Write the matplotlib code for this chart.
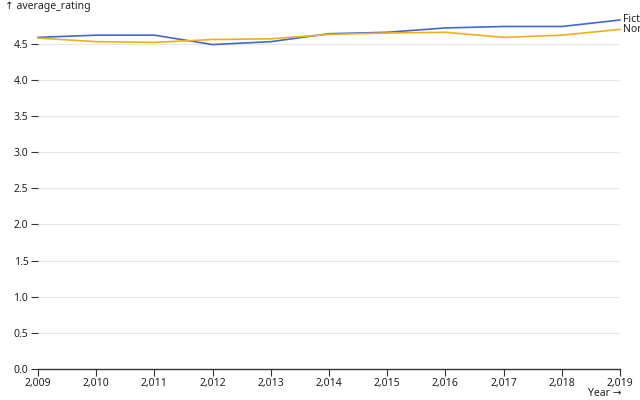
import matplotlib
matplotlib.use("Agg")
import matplotlib.pyplot as plt
from matplotlib.ticker import FuncFormatter, MultipleLocator

plt.rcParams['font.family'] = ['Noto Sans', 'DejaVu Sans']

years = [2009, 2010, 2011, 2012, 2013, 2014, 2015, 2016, 2017, 2018, 2019]
fiction = [4.59, 4.62, 4.62, 4.49, 4.53, 4.64, 4.66, 4.72, 4.74, 4.74, 4.83]
nonfiction = [4.58, 4.53, 4.52, 4.56, 4.57, 4.63, 4.65, 4.66, 4.59, 4.62, 4.70]
series_names = ["Fiction", "Non Fiction"]
colors = ["#4269d0", "#efb118"]

W, H = 640, 400
fig = plt.figure(figsize=(W / 100, H / 100), dpi=100)
left, right, top, bottom = 38, 620, 20, 369
ax = fig.add_axes([left / W, 1 - bottom / H, (right - left) / W, (bottom - top) / H])

for vals, c in zip([fiction, nonfiction], colors):
    ax.plot(years, vals, color=c, lw=1.2, solid_joinstyle='round', clip_on=False)

ymax = max(max(fiction), max(nonfiction))
ax.set_xlim(years[0], years[-1])
ax.set_ylim(0, ymax)

ax.yaxis.set_major_locator(MultipleLocator(0.5))
ax.set_xticks(years)
ax.xaxis.set_major_formatter(FuncFormatter(lambda v, p: f"{int(v):,}"))
ax.yaxis.set_major_formatter(FuncFormatter(lambda v, p: f"{v:.1f}"))

ax.grid(axis='y', color='#e6e6e6', lw=0.8)
ax.set_axisbelow(True)
for s in ['top', 'right', 'left']:
    ax.spines[s].set_visible(False)
ax.spines['bottom'].set_color('#333333')
ax.spines['bottom'].set_linewidth(1)

ax.tick_params(axis='y', length=5, width=0.8, color='#333333', labelsize=7.5, pad=2, labelcolor='#222222')
ax.tick_params(axis='x', length=5, width=0.8, color='#333333', labelsize=7.5, pad=1.5, labelcolor='#222222')

# end labels
for name, vals in zip(series_names, [fiction, nonfiction]):
    ax.annotate(name, xy=(years[-1], vals[-1]), xytext=(2.5, 0), textcoords='offset points',
                va='center', ha='left', fontsize=7.5, color='#222222', annotation_clip=False)

fig.text(5 / W, 1 - 7 / H, "↑ average_rating", ha='left', va='center', fontsize=7.5, color='#222222')
fig.text(right / W + 0.002, 1 - 394 / H, "Year →", ha='right', va='center', fontsize=7.5, color='#222222')

fig.savefig("out.png", dpi=100)
